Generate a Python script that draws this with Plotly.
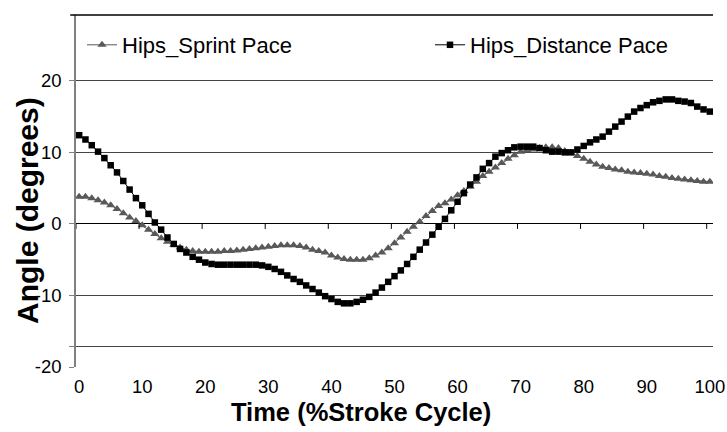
import plotly.graph_objects as go

# % stroke cycle, 0..100
time_pct = list(range(101))

hips_sprint = [
    3.8, 3.8, 3.6, 3.3, 3.0, 2.6, 2.1, 1.5, 0.9, 0.4,
    -0.2, -0.8, -1.4, -2.0, -2.5, -2.9, -3.3, -3.6, -3.8, -3.9,
    -3.9, -3.9, -3.9, -3.8, -3.8, -3.7, -3.6, -3.5, -3.4, -3.3,
    -3.2, -3.1, -3.0, -3.0, -3.0, -3.1, -3.3, -3.6, -3.8, -4.0,
    -4.4, -4.7, -4.9, -5.0, -5.0, -5.0, -4.8, -4.4, -4.0, -3.4,
    -2.7, -1.9, -1.1, -0.4, 0.3, 1.1, 1.8, 2.5, 2.9, 3.4,
    4.0, 4.6, 5.2, 5.9, 6.7, 7.3, 7.9, 8.5, 9.1, 9.6,
    10.1, 10.3, 10.4, 10.6, 10.7, 10.7, 10.6, 10.2, 9.9, 9.5,
    9.1, 8.7, 8.3, 8.0, 7.8, 7.6, 7.5, 7.3, 7.2, 7.1,
    7.0, 6.9, 6.7, 6.6, 6.4, 6.3, 6.2, 6.1, 6.0, 5.9,
    5.9,
]

hips_distance = [
    12.4, 11.8, 11.0, 10.1, 9.2, 8.2, 7.2, 6.0, 4.8, 3.6,
    2.6, 1.4, 0.2, -0.8, -1.9, -2.8, -3.5, -4.0, -4.6, -5.0,
    -5.4, -5.6, -5.7, -5.7, -5.7, -5.7, -5.7, -5.7, -5.7, -5.8,
    -6.0, -6.3, -6.7, -7.2, -7.7, -8.1, -8.6, -9.1, -9.6, -10.1,
    -10.5, -10.9, -11.1, -11.1, -10.9, -10.6, -10.2, -9.6, -8.9, -8.1,
    -7.3, -6.5, -5.6, -4.6, -3.6, -2.6, -1.5, -0.4, 0.7, 1.9,
    3.1, 4.3, 5.5, 6.5, 7.7, 8.5, 9.4, 9.9, 10.3, 10.7,
    10.8, 10.8, 10.8, 10.6, 10.3, 10.1, 10.1, 10.0, 10.0, 10.4,
    10.9, 11.4, 11.8, 12.2, 12.9, 13.6, 14.3, 15.0, 15.7, 16.2,
    16.6, 17.0, 17.2, 17.4, 17.4, 17.2, 17.1, 16.9, 16.4, 16.0,
    15.7,
]

y_ticks = [-20, -17.2, -10, 0, 10, 20]
y_ticktext = ["-20", "", "-10", "0", "10", "20"]
x_ticks = list(range(0, 101, 10))

FONT = "Liberation Sans, Arial, sans-serif"

W, H = 727, 432
L, R, T, B = 76, 14, 15, 65
PW, PH = W - L - R, H - T - B

fig = go.Figure()
fig.add_trace(go.Scatter(
    x=time_pct, y=hips_sprint, name="Hips_Sprint Pace", mode="lines+markers",
    line=dict(color="#595959", width=1),
    marker=dict(symbol="triangle-up", size=8, color="#595959"),
    legend="legend",
))
fig.add_trace(go.Scatter(
    x=time_pct, y=hips_distance, name="Hips_Distance Pace", mode="lines+markers",
    line=dict(color="#000000", width=1),
    marker=dict(symbol="square", size=6.5, color="#000000"),
    legend="legend2",
))

# category-style tick marks on the zero line
shapes = []
for k in range(11):
    xb = k * 10 - 0.5
    shapes.append(dict(type="line", xref="x", yref="y", x0=xb, x1=xb, y0=0, y1=-0.7,
                       line=dict(color="#000000", width=1)))
shapes.append(dict(type="line", xref="paper", yref="paper", x0=-0.009, x1=1, y0=1, y1=1,
                   line=dict(color="#000000", width=1.5)))

leg = dict(orientation="h", yanchor="middle", xanchor="left", y=1 - 30 / PH,
           font=dict(size=22), bgcolor="rgba(0,0,0,0)", itemclick=False)

fig.update_layout(
    width=W, height=H,
    margin=dict(l=L, r=R, t=T, b=B, autoexpand=False),
    paper_bgcolor="white", plot_bgcolor="white",
    font=dict(family=FONT, size=18.5, color="#000000"),
    showlegend=True,
    legend=dict(leg, x=6 / PW),
    legend2=dict(leg, x=(425 - 71) / PW),
    xaxis=dict(range=[-0.5, 100.5], tickvals=x_ticks, showgrid=False, zeroline=False,
               showline=False, ticks="", ticklabelstandoff=6,
               tickfont=dict(size=18.5)),
    yaxis=dict(range=[-20, 29.2], tickvals=y_ticks, ticktext=y_ticktext,
               showgrid=True, gridcolor="#444444", gridwidth=1,
               zeroline=True, zerolinecolor="#000000", zerolinewidth=1,
               showline=True, linecolor="#808080", linewidth=1.5,
               ticks="outside", ticklen=5, tickcolor="#808080",
               ticklabelstandoff=4, tickfont=dict(size=18.5)),
    shapes=shapes,
    annotations=[
        dict(text="<b>Time (%Stroke Cycle)</b>", xref="paper", yref="paper",
             x=(361 - L) / PW, y=-(412 - 367) / PH, xanchor="center", yanchor="middle",
             showarrow=False, font=dict(size=25.5)),
        dict(text="<b>Angle (degrees)</b>", xref="paper", yref="paper",
             x=-(L - 28) / PW, y=1 - (211 - T) / PH, xanchor="center", yanchor="middle",
             textangle=-90, showarrow=False, font=dict(size=30)),
    ],
)

fig.write_html("out.html", config={"displayModeBar": False},
               post_script="document.body.style.margin='0';document.body.style.overflow='hidden';")
